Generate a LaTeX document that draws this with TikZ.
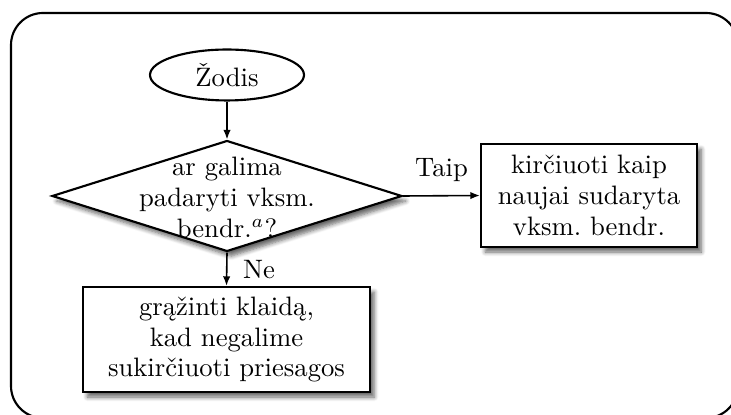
\documentclass[tikz,border=0pt]{standalone}
\usepackage{fontspec}
\usetikzlibrary{shapes.geometric,arrows.meta,shadows.blur}

\tikzset{
  softshadow/.style={blur shadow={shadow xshift=1.6pt, shadow yshift=-1.9pt,
    shadow blur steps=6, shadow blur radius=1.6pt, shadow opacity=60}},
  box/.style={draw, thick, fill=white, rectangle, align=center, softshadow},
  decision/.style={draw, thick, fill=white, diamond, inner sep=0pt, softshadow},
  terminal/.style={draw, thick, fill=white, ellipse, inner sep=0pt},
  flow/.style={semithick, -{Latex[length=3.6pt,width=2.8pt]}},
  frame/.style={draw, thick, rounded corners=12pt},
}

\begin{document}
\begin{tikzpicture}[x=0.375pt, y=-0.375pt,
  every node/.style={font=\fontsize{10}{11.6}\selectfont}]
  \useasboundingbox (0,0) rectangle (731,415);

  % outer frame
  \path[frame] (11,13) rectangle (738,418);

  % nodes
  \node[terminal, minimum width=57.75pt, minimum height=19.1pt] (start) at (227,75) {Žodis};
  \node[decision, minimum width=131.25pt, minimum height=41.6pt] (q) at (227,196) {};
  \node[align=center] (qtext) at (227,197)
    {ar galima\\padaryti vksm.\\bendr.$^{a}$?};
  \node[box, minimum width=81pt, minimum height=38.6pt] (yes) at (589,195.5)
    {kirčiuoti kaip\\naujai sudaryta\\vksm.~bendr.};
  \node[box, minimum width=107.6pt, minimum height=39.4pt] (no) at (226.5,339.5)
    {grąžinti klaidą,\\kad negalime\\sukirčiuoti priesagos};

  % connectors
  \draw[flow] (start) -- (q);
  \draw[flow] (q.east) -- node[above=1.5pt] (taip) {Taip} (yes.west);
  \draw[flow] (q.south) -- node[right=2.5pt] (ne) {Ne} (no.north);
\end{tikzpicture}
\end{document}
